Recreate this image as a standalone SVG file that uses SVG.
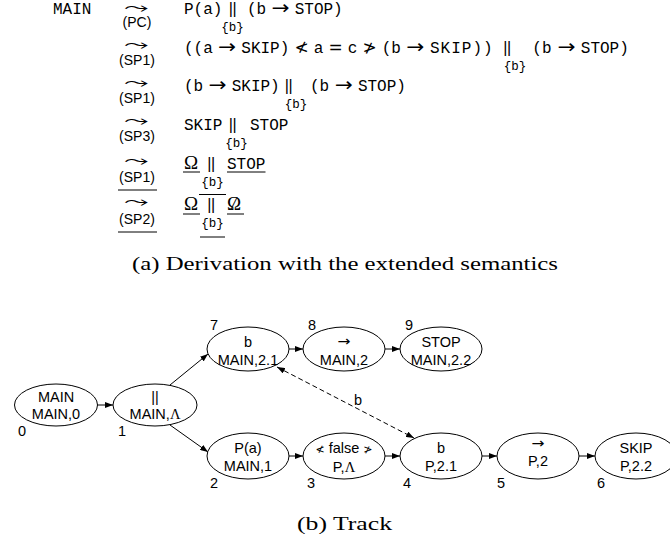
<svg xmlns="http://www.w3.org/2000/svg" width="670" height="546" viewBox="0 0 670 546">
<defs>
<style>
.tt{font-family:'Liberation Mono','DejaVu Sans Mono',monospace;font-size:16px;fill:#000}
.op{font-family:'DejaVu Sans',sans-serif;font-size:17px;fill:#000;text-anchor:middle}
.pl{font-family:'Liberation Sans',Arial,sans-serif;font-size:16px;fill:#000;text-anchor:middle;letter-spacing:-0.5px}
.ar{font-family:'DejaVu Sans',sans-serif;font-size:19px;fill:#000}
.sub{font-family:'Liberation Mono','DejaVu Sans Mono',monospace;font-size:12.5px;fill:#000;text-anchor:middle}
.sq{font-family:'DejaVu Sans',sans-serif;font-size:16px;fill:#000}
.rl{font-family:'Liberation Sans',Arial,sans-serif;font-size:14px;fill:#000;text-anchor:middle}
.om{font-family:'Liberation Serif','DejaVu Serif',serif;font-size:19px;fill:#000}
.cap{font-family:'Liberation Serif','DejaVu Serif',serif;font-size:18.5px;fill:#000}
.ul{stroke:#000;stroke-width:1}
.node ellipse{fill:#fff;stroke:#000;stroke-width:1}
.node text{font-family:'Liberation Sans',Arial,sans-serif;font-size:14.5px;fill:#000;text-anchor:middle}
.node text.arw{font-family:'DejaVu Sans',sans-serif;font-size:14px;text-anchor:start}
.num{font-family:'Liberation Sans',Arial,sans-serif;font-size:14.5px;fill:#000}
.edge{stroke:#000;stroke-width:1;fill:none}
.dash{stroke-dasharray:5,3}
</style>
<marker id="ah" viewBox="0 0 8 6" refX="8" refY="3" markerWidth="8" markerHeight="6" markerUnits="userSpaceOnUse" orient="auto-start-reverse">
<path d="M0,0 L8,3 L0,6 z" fill="#000"/>
</marker>
</defs>
<rect width="670" height="546" fill="#fff"/>

<g id="derivation">
<text class="tt" x="53" y="14">MAIN</text>
<!-- row 1 -->
<text class="sq" x="124" y="13" textLength="25" lengthAdjust="spacingAndGlyphs">⤳</text>
<text class="rl" x="137" y="27">(PC)</text>
<text class="tt" x="184" y="14">P(a)</text>
<text class="pl" x="232.5" y="14">||</text>
<text class="sub" x="232.5" y="31">{b}</text>
<text class="tt" x="247" y="14">(b</text>
<text class="ar" x="271.5" y="14" textLength="18" lengthAdjust="spacingAndGlyphs">→</text>
<text class="tt" x="294.7" y="14">STOP)</text>
<!-- row 2 -->
<text class="sq" x="124" y="50" textLength="25" lengthAdjust="spacingAndGlyphs">⤳</text>
<text class="rl" x="137" y="65">(SP1)</text>
<text class="tt" x="184" y="53">((a</text>
<text class="ar" x="218" y="53" textLength="18" lengthAdjust="spacingAndGlyphs">→</text>
<text class="tt" x="241.3" y="53">SKIP)</text>
<text class="op" x="301.5" y="53">≮</text>
<text class="tt" x="313.7" y="53">a</text>
<text class="op" x="335.5" y="53">=</text>
<text class="tt" x="347.7" y="53">c</text>
<text class="op" x="369.5" y="53">≯</text>
<text class="tt" x="381.7" y="53">(b</text>
<text class="ar" x="406.2" y="53" textLength="18" lengthAdjust="spacingAndGlyphs">→</text>
<text class="tt" x="430" y="53" letter-spacing="1">SKIP))</text>
<text class="pl" x="507" y="53">||</text>
<text class="sub" x="515" y="70">{b}</text>
<text class="tt" x="532.3" y="53">(b</text>
<text class="ar" x="557.6" y="53" textLength="18" lengthAdjust="spacingAndGlyphs">→</text>
<text class="tt" x="580.8" y="53">STOP)</text>
<!-- row 3 -->
<text class="sq" x="124" y="88" textLength="25" lengthAdjust="spacingAndGlyphs">⤳</text>
<text class="rl" x="137" y="103">(SP1)</text>
<text class="tt" x="184" y="91">(b</text>
<text class="ar" x="208.5" y="91" textLength="18" lengthAdjust="spacingAndGlyphs">→</text>
<text class="tt" x="231.7" y="91">SKIP)</text>
<text class="pl" x="288.5" y="91">||</text>
<text class="sub" x="296" y="108">{b}</text>
<text class="tt" x="310" y="91">(b</text>
<text class="ar" x="334.7" y="91" textLength="18" lengthAdjust="spacingAndGlyphs">→</text>
<text class="tt" x="357.9" y="91">STOP)</text>
<!-- row 4 -->
<text class="sq" x="124" y="126" textLength="25" lengthAdjust="spacingAndGlyphs">⤳</text>
<text class="rl" x="137" y="141">(SP3)</text>
<text class="tt" x="184" y="130">SKIP</text>
<text class="pl" x="232.5" y="130">||</text>
<text class="sub" x="236.5" y="147">{b}</text>
<text class="tt" x="250" y="130">STOP</text>
<!-- row 5 -->
<text class="sq" x="124" y="166" textLength="25" lengthAdjust="spacingAndGlyphs">⤳</text>
<text class="rl" x="137" y="182">(SP1)</text>
<line class="ul" x1="118" y1="190" x2="157" y2="190"/>
<text class="om" x="184" y="169">Ω</text>
<line class="ul" x1="183" y1="172" x2="200" y2="172"/>
<text class="pl" x="211" y="169">||</text>
<text class="sub" x="212.5" y="186">{b}</text>
<text class="tt" x="227" y="169">STOP</text>
<line class="ul" x1="227" y1="172" x2="265.5" y2="172"/>
<!-- row 6 -->
<text class="sq" x="124" y="207" textLength="25" lengthAdjust="spacingAndGlyphs">⤳</text>
<text class="rl" x="137" y="224">(SP2)</text>
<line class="ul" x1="118" y1="232" x2="157" y2="232"/>
<text class="om" x="184" y="210">Ω</text>
<line class="ul" x1="183" y1="214" x2="200" y2="214"/>
<line class="ul" x1="199" y1="194.5" x2="226" y2="194.5"/>
<text class="pl" x="211" y="210">||</text>
<text class="sub" x="212.5" y="227">{b}</text>
<line class="ul" x1="200" y1="237" x2="225" y2="237"/>
<text class="om" x="227" y="210">Ω</text>
<text class="om" x="231" y="210" font-style="italic">/</text>
<line class="ul" x1="227" y1="214" x2="244" y2="214"/>
</g>

<text class="cap" x="132" y="270" textLength="426" lengthAdjust="spacingAndGlyphs">(a) Derivation with the extended semantics</text>

<g id="connectors">
<line class="edge" x1="97" y1="405" x2="113" y2="405" marker-end="url(#ah)"/>
<line class="edge" x1="170" y1="385" x2="208" y2="354" marker-end="url(#ah)"/>
<line class="edge" x1="170" y1="425" x2="208" y2="452" marker-end="url(#ah)"/>
<line class="edge" x1="289" y1="349" x2="303" y2="349" marker-end="url(#ah)"/>
<line class="edge" x1="385" y1="349" x2="400" y2="349" marker-end="url(#ah)"/>
<line class="edge" x1="289" y1="456" x2="303" y2="456" marker-end="url(#ah)"/>
<line class="edge" x1="385" y1="456" x2="400" y2="456" marker-end="url(#ah)"/>
<line class="edge" x1="482" y1="456" x2="497" y2="456" marker-end="url(#ah)"/>
<line class="edge" x1="579" y1="456" x2="595" y2="456" marker-end="url(#ah)"/>
<line class="edge dash" x1="277" y1="367" x2="414" y2="438" marker-start="url(#ah)" marker-end="url(#ah)"/>
<text class="num" x="358" y="405" text-anchor="middle">b</text>
</g>

<g id="n0" class="node"><ellipse cx="56" cy="405" rx="41.5" ry="21"/><text x="56" y="402">MAIN</text><text x="56" y="419">MAIN,0</text></g>
<g id="n1" class="node"><ellipse cx="155" cy="405" rx="42" ry="21"/><text x="155" y="402">||</text><text x="155" y="419">MAIN,<tspan font-family="'Liberation Serif',serif">Λ</tspan></text></g>
<g id="n7" class="node"><ellipse cx="248" cy="349" rx="41" ry="22"/><text x="248" y="347">b</text><text x="248" y="365">MAIN,2.1</text></g>
<g id="n8" class="node"><ellipse cx="344" cy="349" rx="41" ry="22"/><text class="arw" x="337.5" y="346" textLength="13" lengthAdjust="spacingAndGlyphs">→</text><text x="344" y="365">MAIN,2</text></g>
<g id="n9" class="node"><ellipse cx="441" cy="349" rx="41" ry="22"/><text x="441" y="347">STOP</text><text x="441" y="365">MAIN,2.2</text></g>
<g id="n2" class="node"><ellipse cx="248" cy="456" rx="41" ry="23"/><text x="248" y="453">P(a)</text><text x="248" y="471">MAIN,1</text></g>
<g id="n3" class="node"><ellipse cx="344" cy="456" rx="41" ry="23"/><text x="344" y="453" font-size="12"><tspan font-family="'DejaVu Sans',sans-serif" font-size="11">≮</tspan> false <tspan font-family="'DejaVu Sans',sans-serif" font-size="11">≯</tspan></text><text x="344" y="472">P,<tspan font-family="'Liberation Serif',serif">Λ</tspan></text></g>
<g id="n4" class="node"><ellipse cx="441" cy="456" rx="41" ry="23"/><text x="441" y="453">b</text><text x="441" y="471">P,2.1</text></g>
<g id="n5" class="node"><ellipse cx="538" cy="456" rx="41" ry="23"/><text class="arw" x="531.5" y="448" textLength="13" lengthAdjust="spacingAndGlyphs">→</text><text x="538" y="466">P,2</text></g>
<g id="n6" class="node"><ellipse cx="636" cy="456" rx="41" ry="23"/><text x="636" y="453">SKIP</text><text x="636" y="471">P,2.2</text></g>

<g id="numbers">
<text class="num" x="18" y="436">0</text>
<text class="num" x="118" y="436">1</text>
<text class="num" x="210" y="488">2</text>
<text class="num" x="307" y="488">3</text>
<text class="num" x="403" y="488">4</text>
<text class="num" x="497" y="488">5</text>
<text class="num" x="597" y="488">6</text>
<text class="num" x="210" y="330">7</text>
<text class="num" x="308" y="330">8</text>
<text class="num" x="405" y="330">9</text>
</g>

<text class="cap" x="297" y="530" textLength="95" lengthAdjust="spacingAndGlyphs">(b) Track</text>
</svg>
